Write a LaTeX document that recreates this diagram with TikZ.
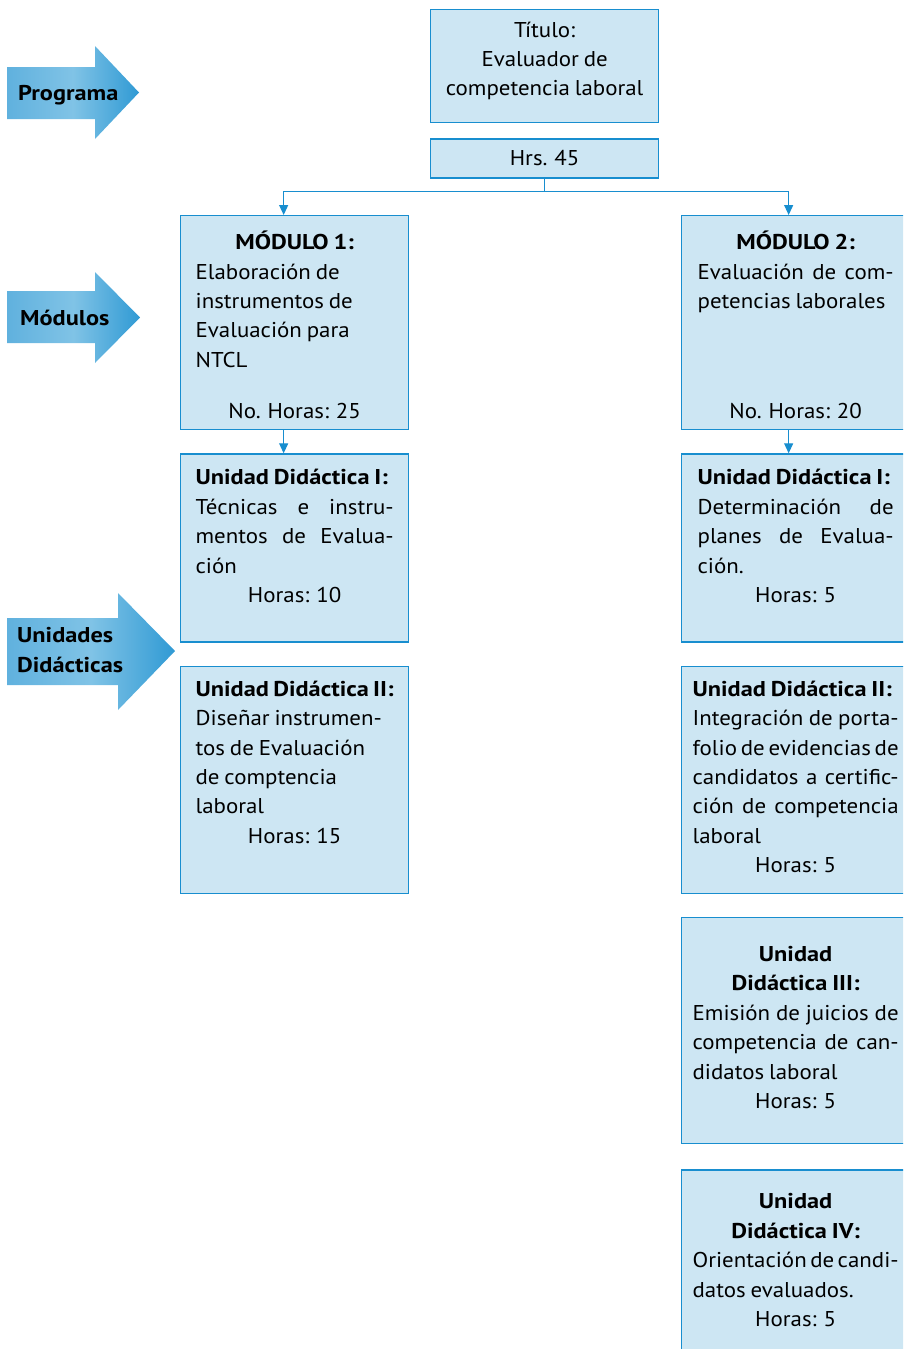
\documentclass[tikz,border=0pt]{standalone}
\usepackage{fontspec}
\setmainfont{PT Sans}[FakeStretch=1.07, WordSpace=0.8]
\newfontfamily\headfont{PT Sans Bold}[FakeStretch=1.137, WordSpace=0.8]
\usetikzlibrary{positioning, arrows.meta}
\definecolor{boxblue}{RGB}{205, 230, 243}
\definecolor{lineblue}{RGB}{24, 142, 207}
\definecolor{shadeleft}{RGB}{96, 177, 222}
\definecolor{shademid}{RGB}{128, 195, 230}
\definecolor{shaderight}{RGB}{48, 154, 212}
% one line over the whole text width, stretched or centred
\newcommand{\fullline}[1]{\makebox[\linewidth][s]{#1}}
\newcommand{\midline}[1]{\makebox[\linewidth][c]{#1}}
\newcommand{\hd}[1]{{\headfont #1}}
% text block of a cell: width, height, space above, text
\newcommand{\cellbody}[4]{\parbox[t][#2][t]{#1}{\vspace*{#3}\rule{0pt}{20pt}#4}}

\begin{document}
\begin{tikzpicture}[x=1pt, y=1pt,
  font=\fontsize{21.4}{29.4}\selectfont,
  cell/.style={draw=lineblue, line width=1.3pt, fill=boxblue,
    inner xsep=15pt, inner ysep=0pt, anchor=north west},
  link/.style={draw=lineblue, line width=1.2pt, -{Triangle[length=10pt, width=9pt]}},
  bigarrow/.style={left color=shadeleft, right color=shaderight, middle color=shademid},
  tag/.style={font=\fontsize{21.4}{29.4}\selectfont\headfont, align=left, inner sep=0pt, anchor=west}
]
  \clip (0,0) rectangle (903,-1349);

  % big arrows on the left
  \shade[bigarrow] (7,-67) -- (95,-67) -- (95,-46) -- (139,-92.5) -- (95,-139) -- (95,-119) -- (7,-119) -- cycle;
  \shade[bigarrow] (7,-291) -- (95,-291) -- (95,-272) -- (140,-317.5) -- (95,-363) -- (95,-343) -- (7,-343) -- cycle;
  \shade[bigarrow] (7,-618) -- (118,-618) -- (118,-593) -- (175,-651) -- (118,-710) -- (118,-685) -- (7,-685) -- cycle;
  \node[tag] (prog) at (18,-95) {Programa};
  \node[tag] (mods) at (20,-318) {Módulos};
  \node[tag] (unid) at (17,-650) {Unidades\\Didácticas};

  % program
  \node[cell] (title) at (430,-9)
    {\cellbody{198pt}{113pt}{7.5pt}{\midline{Título:}\\ \midline{Evaluador de}\\ \midline{competencia laboral}}};
  \node[cell, below=15pt of title] (hrs)
    {\cellbody{198pt}{39pt}{7pt}{\midline{Hrs. 45}}};

  % modules
  \node[cell] (mod1) at (180,-215)
    {\cellbody{198pt}{214pt}{14pt}{\midline{\hd{MÓDULO 1:}}\\ Elaboración de\\ instrumentos de\\
      Evaluación para\\ NTCL\par\vfill \midline{No. Horas: 25\rule[-11pt]{0pt}{11pt}}}};
  \node[cell, inner xsep=16pt] (mod2) at (681,-215)
    {\cellbody{196pt}{214pt}{14pt}{\midline{\hd{MÓDULO 2:}}\\ \fullline{Evaluación de com-}\\ petencias laborales\par\vfill
      \midline{No. Horas: 20\rule[-11pt]{0pt}{11pt}}}};

  % units of module 1
  \node[cell, below=23pt of mod1] (ud1)
    {\cellbody{198pt}{188pt}{11pt}{\hd{Unidad Didáctica I:}\\ \fullline{Técnicas e instru-}\\
      \fullline{mentos de Evalua-}\\ ción\\ \midline{Horas: 10}}};
  \node[cell, below=23pt of ud1] (ud2)
    {\cellbody{198pt}{227pt}{10pt}{\hd{Unidad Didáctica II:}\\ Diseñar instrumen-\\ tos de Evaluación\\
      de comptencia\\ laboral\\ \midline{Horas: 15}}};

  % units of module 2
  \node[cell, inner xsep=16pt, below=23pt of mod2] (rud1)
    {\cellbody{196pt}{188pt}{11pt}{\hd{Unidad Didáctica I:}\\ \fullline{Determinación de}\\
      \fullline{planes de Evalua-}\\ ción.\\ \midline{Horas: 5}}};
  \node[cell, inner xsep=11pt, below=23pt of rud1] (rud2)
    {\cellbody{206pt}{227pt}{10pt}{\hd{Unidad Didáctica II:}\\ \fullline{Integración de porta-}\\
      \fullline{folio de evidencias de}\\ \fullline{candidatos a certific-}\\ \fullline{ción de competencia}\\
      laboral\\ \midline{Horas: 5}}};
  \node[cell, inner xsep=11pt, below=23pt of rud2] (rud3)
    {\cellbody{206pt}{226pt}{24pt}{\midline{\hd{Unidad}}\\ \midline{\hd{Didáctica III:}}\\
      \fullline{Emisión de juicios de}\\ \fullline{competencia de can-}\\ didatos laboral\\ \midline{Horas: 5}}};
  \node[cell, inner xsep=11pt, below=25pt of rud3] (rud4)
    {\cellbody{206pt}{226pt}{19pt}{\midline{\hd{Unidad}}\\ \midline{\hd{Didáctica IV:}}\\
      \fullline{Orientación de candi-}\\ datos evaluados.\\ \midline{Horas: 5}}};

  % connectors
  \draw[link] (hrs.south) -- ++(0,-13) -| ([xshift=-11pt]mod1.north);
  \draw[link] (hrs.south) -- ++(0,-13) -| ([xshift=-7pt]mod2.north);
  \draw[link] ([xshift=-11pt]mod1.south) -- ([xshift=-11pt]ud1.north);
  \draw[link] ([xshift=-7pt]mod2.south) -- ([xshift=-7pt]rud1.north);
\end{tikzpicture}
\end{document}
